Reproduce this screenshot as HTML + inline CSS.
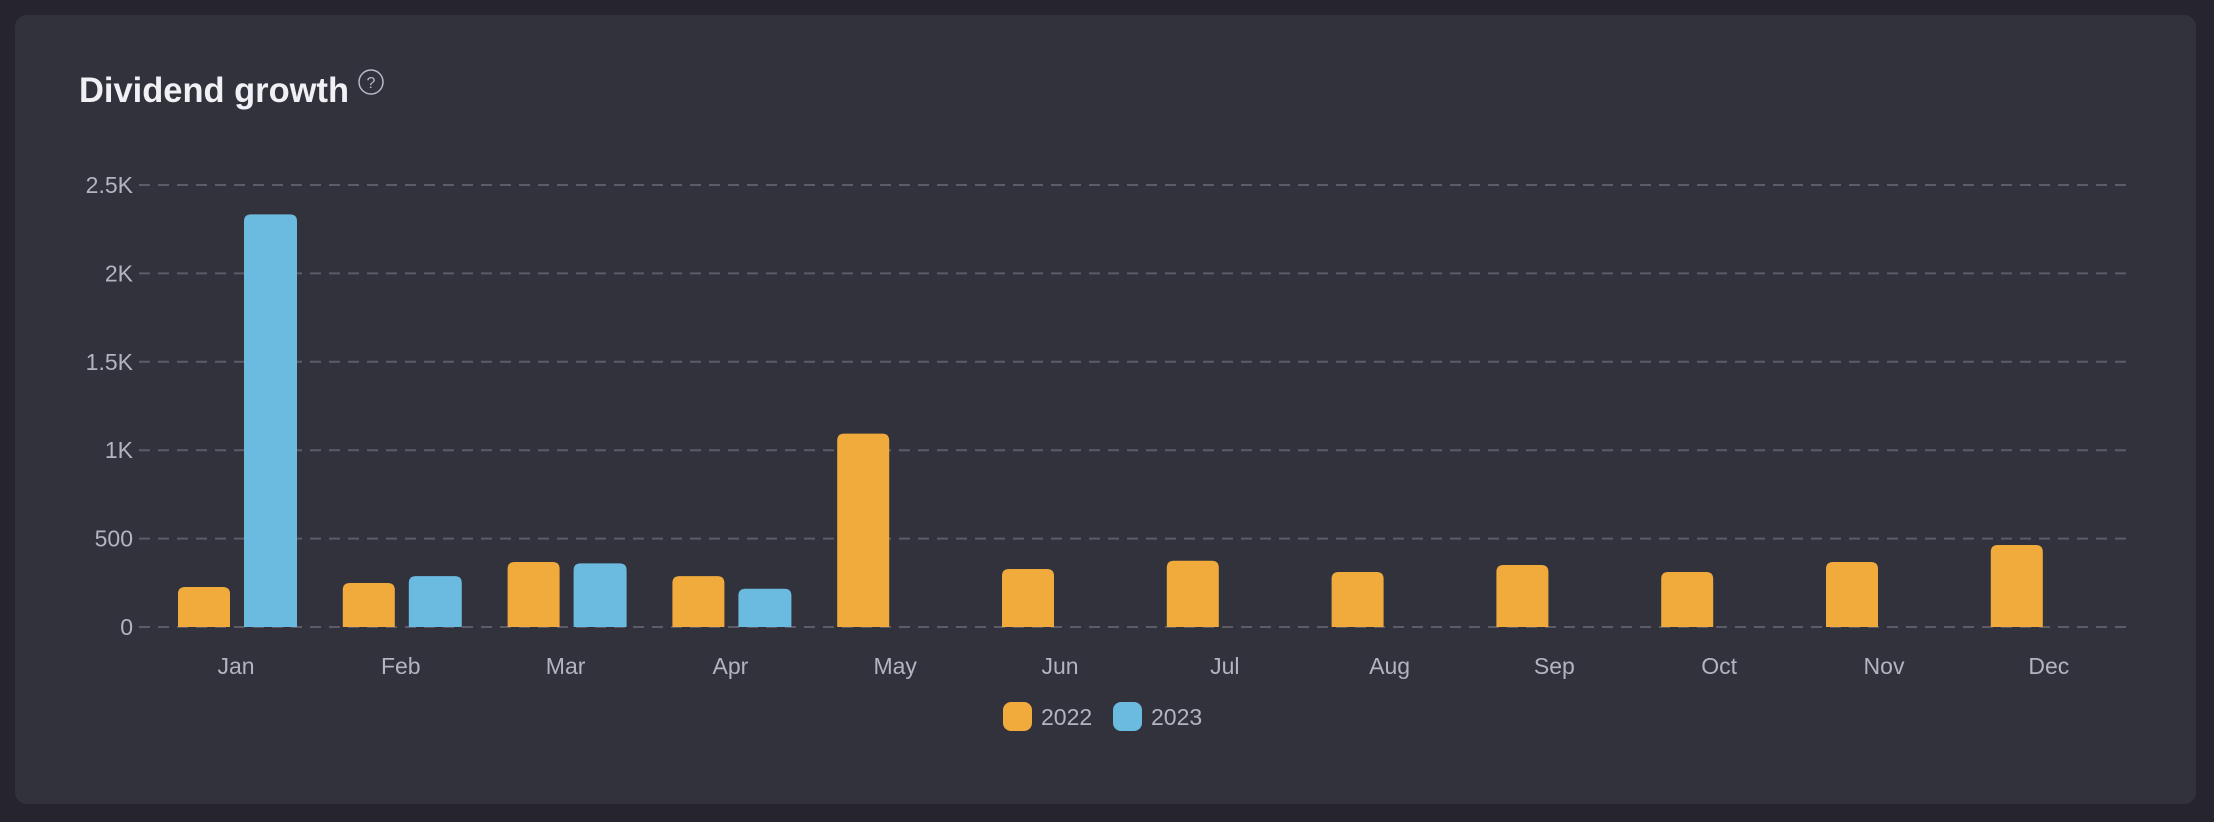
<!DOCTYPE html>
<html><head><meta charset="utf-8">
<style>
html,body{margin:0;padding:0;background:#26252f;}
body{width:2214px;height:822px;position:relative;overflow:hidden;font-family:"Liberation Sans",sans-serif;}
#card{position:absolute;left:15px;top:15px;width:2181px;height:789px;background:#32323d;border-radius:12px;}
svg{position:absolute;left:0;top:0;}
</style></head>
<body>
<div id="card"></div>
<svg id="chart" width="2214" height="822">
  <text x="79" y="102" font-size="35" font-weight="bold" fill="#f0f0f5" textLength="270" lengthAdjust="spacingAndGlyphs" font-family="Liberation Sans, sans-serif">Dividend growth</text>
  <g>
    <circle cx="371" cy="82" r="12" fill="none" stroke="#b8b8c4" stroke-width="1.5"/>
    <text x="371" y="88" font-size="16" text-anchor="middle" fill="#b8b8c4" font-family="Liberation Sans, sans-serif">?</text>
  </g>
  <g id="grid"></g>
  <g id="bars"></g>
  <g id="xlabels"></g>
  <g id="legend"></g>
</svg>
<script>
const months = ["Jan","Feb","Mar","Apr","May","Jun","Jul","Aug","Sep","Oct","Nov","Dec"];
const values2022 = [226,249,368,288,1094,328,375,311,351,311,368,464];
const values2023 = [2334,288,360,216,null,null,null,null,null,null,null,null];
const yTicks = [0,500,1000,1500,2000,2500];
const yTickLabels = ["0","500","1K","1.5K","2K","2.5K"];

const NS="http://www.w3.org/2000/svg";
const y0=627, yTop=185, yMax=2500;
function yScale(v){return y0-(v/yMax)*(y0-yTop);}
function xCenter(i){return 236+i*164.8;}
function mk(tag,attrs,parent){const e=document.createElementNS(NS,tag);for(const k in attrs)e.setAttribute(k,attrs[k]);parent.appendChild(e);return e;}
function barPath(x,w,top,bottom,r){r=Math.min(r,(bottom-top));return `M${x},${bottom}V${top+r}Q${x},${top} ${x+r},${top}H${x+w-r}Q${x+w},${top} ${x+w},${top+r}V${bottom}Z`;}

const grid=document.getElementById('grid');
yTicks.forEach((t,i)=>{
  const y=yScale(t);
  const l=mk('line',{x1:139,x2:2130,y1:y,y2:y,stroke:'#5c5c68','stroke-width':2,'stroke-dasharray':'11,8'},grid);
  
  
  const tx=mk('text',{x:133,y:y+8,'font-size':23,'text-anchor':'end',fill:'#b4b4c0','font-family':'Liberation Sans, sans-serif'},grid);
  tx.textContent=yTickLabels[i];
  
  
});

const bars=document.getElementById('bars');
const xl=document.getElementById('xlabels');
months.forEach((m,i)=>{
  const c=xCenter(i);
  if(values2022[i]!=null){
    const p=mk('path',{d:barPath(c-58,52,yScale(values2022[i]),y0,7),fill:'#f0ab3c'},bars);
    
    
  }
  if(values2023[i]!=null){
    const p=mk('path',{d:barPath(c+8,53,yScale(values2023[i]),y0,7),fill:'#6bbbe0'},bars);
    
    
  }
  const t=mk('text',{x:c,y:674,'font-size':23,'text-anchor':'middle',fill:'#b4b4c0','font-family':'Liberation Sans, sans-serif'},xl);
  t.textContent=m;
  
  
});

const lg=document.getElementById('legend');
[["2022","#f0ab3c",1003],["2023","#6bbbe0",1113]].forEach(([name,col,x])=>{
  const g=mk('g',{},lg);
  
  
  mk('rect',{x:x,y:702,width:29,height:29,rx:8,fill:col},g);
  const t=mk('text',{x:x+38,y:725,'font-size':23,fill:'#b4b4c0','font-family':'Liberation Sans, sans-serif'},g);
  t.textContent=name;
});
</script>
</body></html>
